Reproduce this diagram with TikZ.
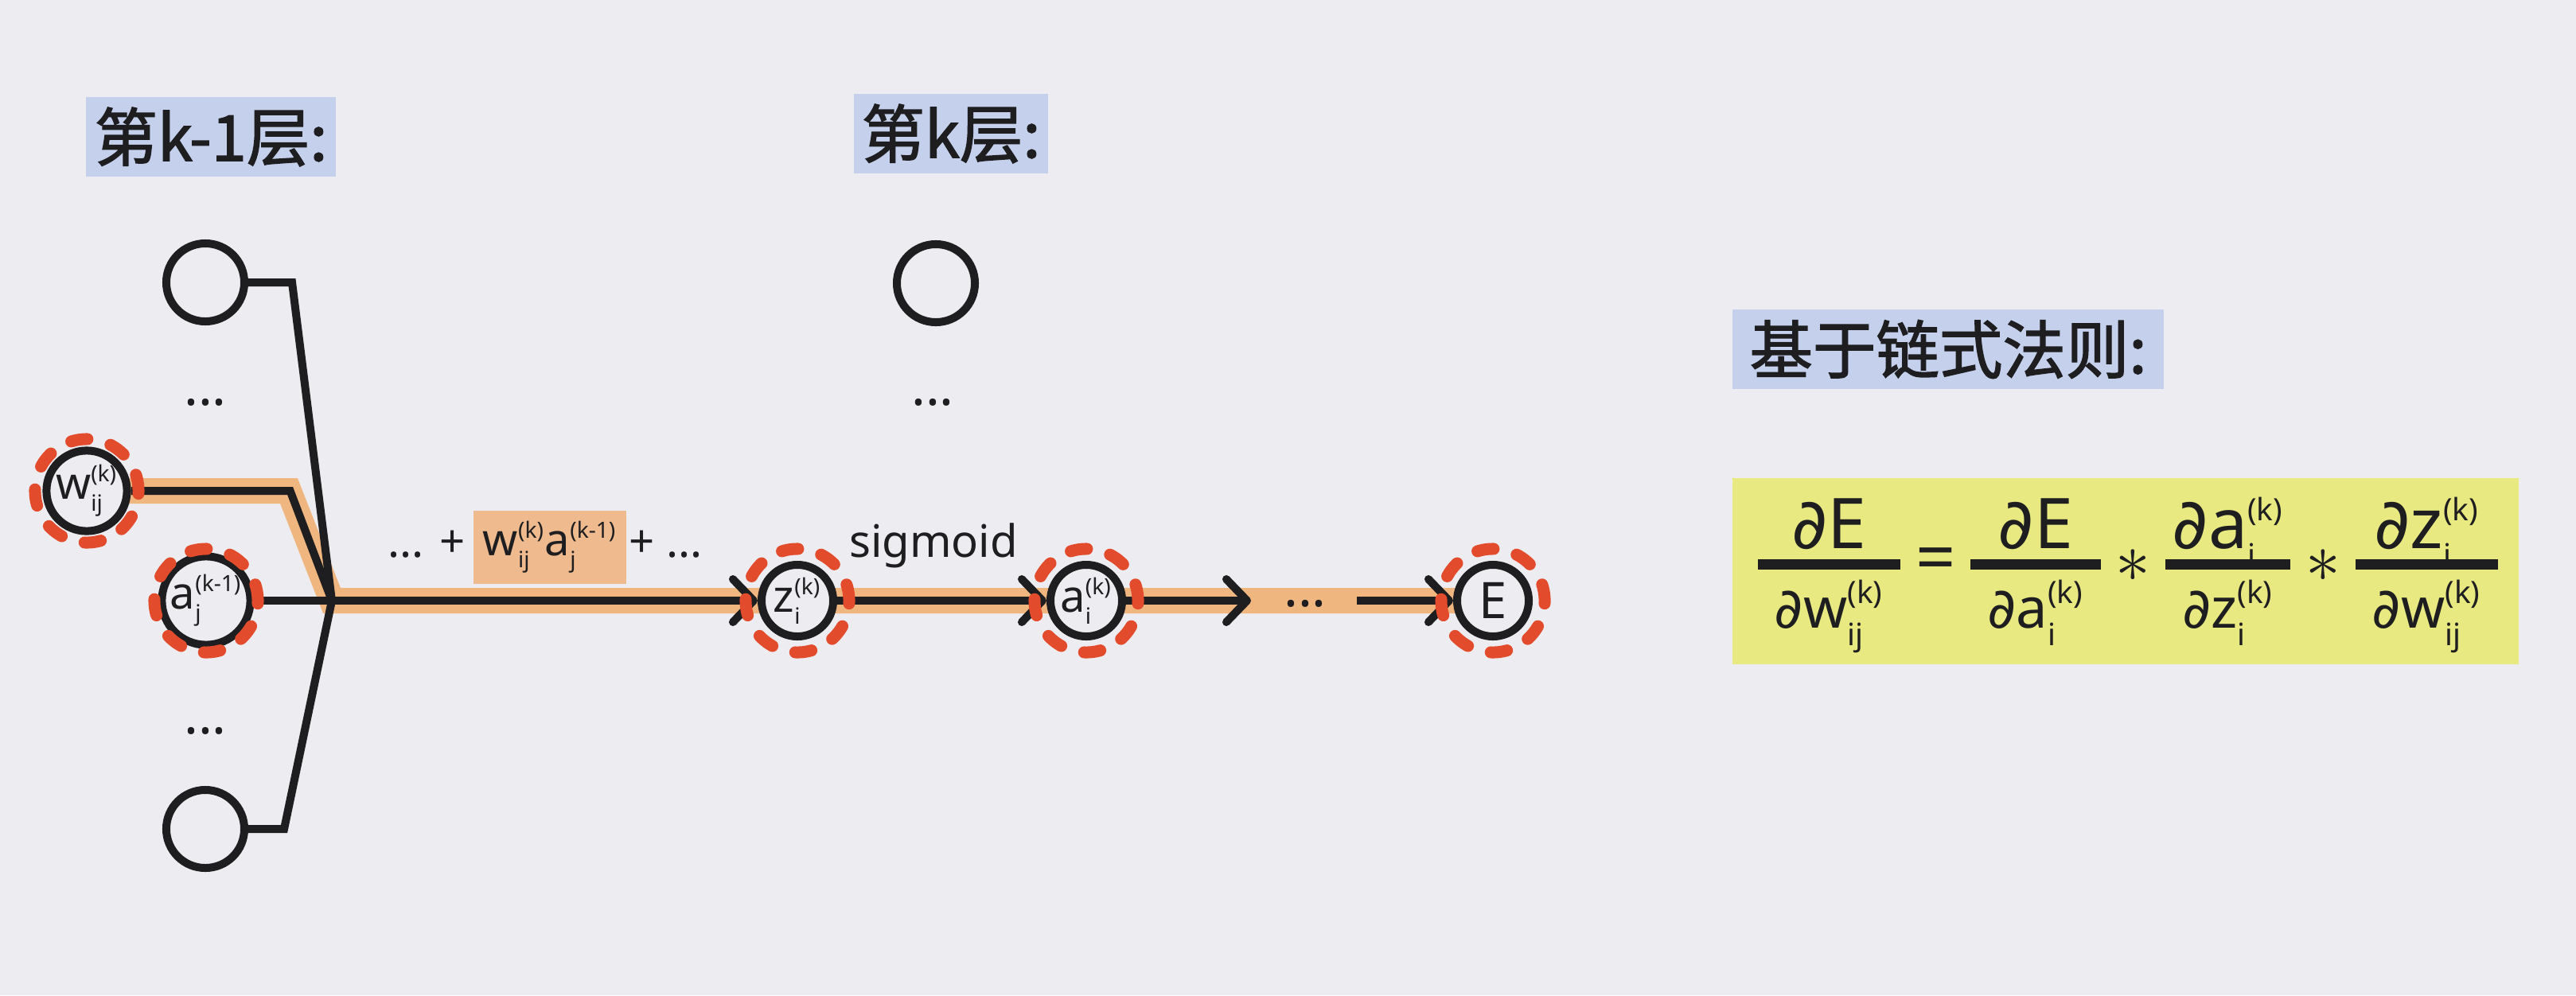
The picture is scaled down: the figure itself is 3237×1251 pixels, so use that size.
\documentclass[tikz,border=0pt]{standalone}
\usepackage{amsmath}
\usepackage{fontspec}
\setmainfont{Noto Sans}
\newfontfamily\cjk[FakeBold=1.8]{Noto Sans CJK SC}
\newfontfamily\symf{DejaVu Sans}
\usetikzlibrary{arrows.meta, positioning}
\pgfdeclarelayer{back}
\pgfsetlayers{back,main}

\definecolor{bg}{RGB}{237,236,240}
\definecolor{ink}{RGB}{30,30,32}
\definecolor{hot}{RGB}{226,76,44}
\definecolor{peach}{RGB}{240,182,128}
\definecolor{sumpeach}{RGB}{238,186,142}
\definecolor{tagblue}{RGB}{197,209,236}
\definecolor{chainyellow}{RGB}{232,233,128}

% script sizes inside the circles and inside the chain rule
\newcommand\pd{{\symf ∂}}
\newcommand\nscr[1]{\text{\fontsize{8}{8}\selectfont #1}}
\newcommand\fscr[1]{\text{\fontsize{11}{11}\selectfont #1}}
\newcommand\fnum[1]{\text{\fontsize{25}{25}\selectfont #1}}
\newcommand\fden[1]{\text{\fontsize{20}{20}\selectfont #1}}
\newcommand\fup[1]{\hbox{\fontsize{25}{25}\selectfont\smash[b]{$#1$}}}
\newcommand\fdown[1]{\hbox{\fontsize{25}{25}\selectfont\kern6pt$#1$\kern6pt}}
\newcommand\pfrac[2]{\genfrac{}{}{3.7pt}{1}{\fup{#1}}{\fdown{#2}}}

\begin{document}
\begin{tikzpicture}[
  x=0.01cm, y=-0.01cm,
  font=\fontsize{16}{19}\selectfont, text=ink,
  neuron/.style={circle, draw=ink, line width=1mm, fill=bg, minimum size=9.8mm, inner sep=0pt},
  unit/.style={neuron, minimum size=9mm},
  ring/.style={draw=hot, line width=1.5mm, dash pattern=on 2.06mm off 3mm, line cap=round},
  wire/.style={draw=ink, line width=1mm},
  arr/.style={wire, -{Straight Barb[length=2.6mm, width=5.4mm, round]}},
  band/.style={draw=peach, line width=3.2mm},
  tag/.style={fill=tagblue, inner sep=0pt, minimum height=10mm,
              font=\cjk\fontsize{22.6}{26}\selectfont},
  sumbox/.style={fill=sumpeach, inner sep=0pt, minimum width=1.92cm, minimum height=0.91cm},
  dots/.style={anchor=base, inner sep=0pt, font=\bfseries\fontsize{19}{19}\selectfont}
]
\begin{pgfonlayer}{back}
  \fill[bg] (0,0) rectangle (3237,1251);
\end{pgfonlayer}
\useasboundingbox (0,0) rectangle (3237,1251);

% layer labels
\node[tag, minimum width=3.14cm] (lk1) at (265,172) {第k-1层:};
\node[tag, minimum width=2.44cm] (lk) at (1195,168) {第k层:};
\node[tag, minimum width=5.42cm] (rule) at (2448,439) {基于链式法则:};

% layer k-1
\node[neuron] (top1) at (258,355) {};
\node[dots] (dl1) at (258,509) {...};
\node[neuron] (wij) at (109,617) {$\text{w}^{\nscr{(k)}}_{\nscr{ij}}$};
\node[neuron] (aj) at (259,755) {$\text{a}^{\nscr{(k-1)}}_{\nscr{j}}$};
\node[dots] (dl2) at (258,922) {...};
\node[neuron] (bot1) at (258,1042) {};
\coordinate (J) at (417,755);

% layer k
\node[neuron] (top2) at (1176,356) {};
\node[dots] (dk1) at (1172,509) {...};
\node[unit] (zi) at (1002,755) {$\text{z}^{\nscr{(k)}}_{\nscr{i}}$};
\node[unit] (ai) at (1365,755) {$\text{a}^{\nscr{(k)}}_{\nscr{i}}$};
\coordinate (gap1) at (1572,755);
\node[dots] (dk2) at (1640,762) {...};
\coordinate (gap2) at (1705,755);
\node[unit, font=\fontsize{18}{20}\selectfont] (err) at (1876,755) {E};

% weighted sum and activation
\node[sumbox] (prod) at (691,688) {$\text{w}^{\nscr{(k)}}_{\nscr{ij}}\text{a}^{\nscr{(k-1)}}_{\nscr{j}}$};
\node[anchor=base east, inner sep=0pt] (pre) at (585,700) {\textbf{...} +};
\node[anchor=base west, inner sep=0pt] (post) at (790,700) {+ \textbf{...}};
\node[anchor=base, inner sep=0pt] (act) at (1173,700) {sigmoid};

% highlighted path
\begin{pgfonlayer}{back}
  \draw[band] (wij.center) -- ++(254,0) -- (J) -- (err.center);
\end{pgfonlayer}

\draw[wire] (top1.east) -- ++(55,0) -- (J);
\draw[wire] (wij.east) -- ++(200,0) -- (J);
\draw[wire] (aj.east) -- (J);
\draw[wire] (bot1.east) -- ++(45,0) -- (J);
\draw[arr] (J) -- (zi);
\draw[arr] (zi) -- (ai);
\draw[arr] (ai) -- (gap1);
\draw[arr] (gap2) -- (err);
\foreach \n in {wij,aj,zi,ai,err} \draw[ring] (\n.center) circle[radius=6.5mm];

% chain rule
\node[fill=chainyellow, minimum width=9.88cm, minimum height=2.33cm] (chainbox) at (2671,718) {};
\node[anchor=base, inner sep=0pt, font=\fontsize{25}{30}\selectfont] (chain) at (2674,731) {$
  \pfrac{\fnum{\pd E}}{\fden{\pd w}^{\fscr{(k)}}_{\fscr{ij}}}
  \mkern3mu\text{=}\mkern3mu
  \pfrac{\fnum{\pd E}}{\fden{\pd a}^{\fscr{(k)}}_{\fscr{i}}}
  \mkern3mu{\ast}\mkern3mu
  \pfrac{\fnum{\pd a}^{\fscr{(k)}}_{\fscr{i}}}{\fden{\pd z}^{\fscr{(k)}}_{\fscr{i}}}
  \mkern3mu{\ast}\mkern3mu
  \pfrac{\fnum{\pd z}^{\fscr{(k)}}_{\fscr{i}}}{\fden{\pd w}^{\fscr{(k)}}_{\fscr{ij}}}$};
\end{tikzpicture}
\end{document}
